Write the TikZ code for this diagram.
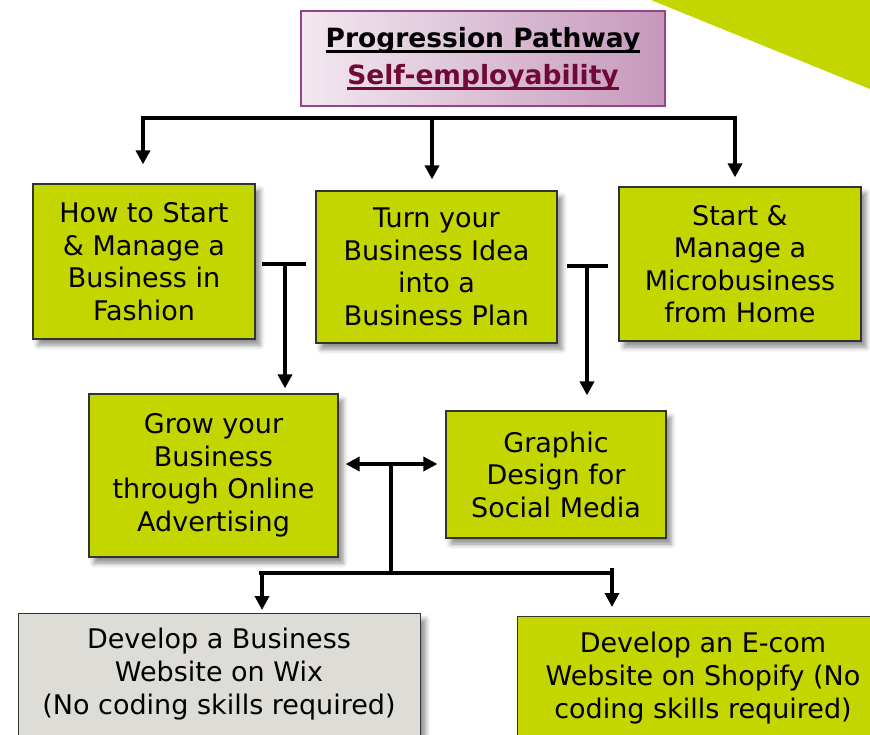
\documentclass[tikz,border=0pt]{standalone}
\usepackage{fontspec}
\setmainfont{DejaVu Sans}
\usetikzlibrary{arrows.meta,shadows.blur}
\definecolor{cLime}{RGB}{196,214,0}
\definecolor{cGrey}{RGB}{222,220,214}
\definecolor{cTitleL}{RGB}{242,232,240}
\definecolor{cTitleR}{RGB}{198,152,188}
\definecolor{cTitleB}{RGB}{150,68,138}
\definecolor{cMaroon}{RGB}{112,10,52}
\newcommand\myul[1]{\setbox0\hbox{#1}\rlap{\rule[-5.5pt]{\wd0}{2.5pt}}\box0}
\begin{document}
\begin{tikzpicture}[x=1pt,y=-1pt,
  box/.style={draw=black!80, line width=1.2pt, fill=cLime, inner sep=0pt, align=center,
    font=\fontsize{27}{32.5}\selectfont,
    blur shadow={shadow xshift=5pt, shadow yshift=-6pt, shadow blur radius=5pt, shadow opacity=45}},
  boxtext/.style={inner sep=0pt, align=center, font=\fontsize{27}{33}\selectfont},
  conn/.style={line width=4pt, draw=black},
  arr/.style={conn, -{Triangle[length=14pt,width=14pt]}},
]
\clip (0,0) rectangle (870,735);
\fill[cLime] (651,0) -- (870,0) -- (870,89) -- cycle;

\node[draw=cTitleB, line width=1.8pt, left color=cTitleL, right color=cTitleR,
  minimum width=364, minimum height=95, align=center, inner sep=0pt,
  font=\bfseries\fontsize{26.5}{37}\selectfont] (title) at (483,58.5)
  {\myul{Progression Pathway}\\\textcolor{cMaroon}{\myul{Self-employability}}};

\node[box, minimum width=222, minimum height=155] (fashion) at (144,261.5) {How to Start\\\& Manage a\\Business in\\Fashion};
\node[box, minimum width=241, minimum height=152] (plan) at (436.5,267) {Turn your\\Business Idea\\into a\\Business Plan};
\node[box, minimum width=242, minimum height=154] (micro) at (740,264) {Start \&\\Manage a\\Microbusiness\\from Home};
\node[box, minimum width=249, minimum height=163] (grow) at (213.5,475.5) {Grow your\\Business\\through Online\\Advertising};
\node[box, minimum width=220, minimum height=127] (graphic) at (556,474.5) {Graphic\\Design for\\Social Media};
\node[box, fill=cGrey, minimum width=402, minimum height=150, anchor=north west] (wix) at (18,613) {};
\node[boxtext] (wixt) at (219,674) {Develop a Business\\Website on Wix\\(No coding skills required)};
\node[box, minimum width=370, minimum height=150, anchor=north west] (shop) at (517,616) {};
\node[boxtext] (shopt) at (703,678) {Develop an E-com\\Website on Shopify (No\\coding skills required)};

% top connector
\coordinate (tl) at (143,118);
\coordinate (tm) at (432,118);
\coordinate (tr) at (735,118);
\draw[arr, shorten >=19pt] (tm) -- (tl) -- (tl |- fashion.north);
\draw[arr, shorten >=9pt] (tm) -- (tr) -- (tr |- micro.north);
\draw[arr, shorten >=11pt] (tm) -- (tm |- plan.north);

% left T
\coordinate (lt) at (285,264);
\draw[conn] ([xshift=-23pt]lt) -- ([xshift=21pt]lt);
\draw[arr, shorten >=5pt] (lt) -- (lt |- grow.north);
% right T
\coordinate (rt) at (587,266);
\draw[conn] ([xshift=-20pt]rt) -- ([xshift=21pt]rt);
\draw[arr, shorten >=15pt] (rt) -- (rt |- graphic.north);

% middle
\coordinate (mj) at (391,464);
\coordinate (mb) at (391,573);
\draw[conn, {Triangle[length=14pt,width=14pt]}-{Triangle[length=14pt,width=14pt]}, shorten <=7pt, shorten >=8pt]
  (grow.east |- mj) -- (graphic.west |- mj);
\draw[conn] (mj) -- (mb);
\draw[conn] ([xshift=-132pt]mb) -- ([xshift=222pt]mb);
\coordinate (bl) at (262,573);
\coordinate (br) at (612,568);
\draw[arr, shorten >=3pt] (bl) -- (bl |- wix.north);
\draw[arr, shorten >=9pt] (br) -- (br |- shop.north);
\end{tikzpicture}
\end{document}
